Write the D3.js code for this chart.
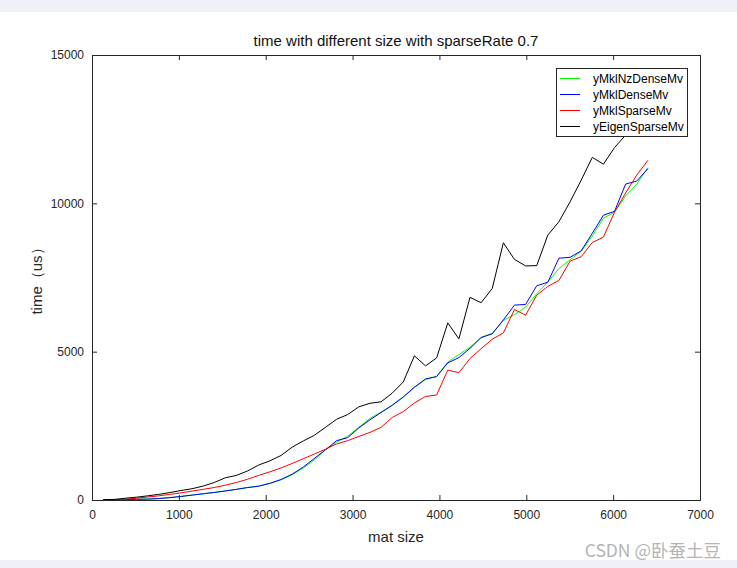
<!DOCTYPE html>
<html>
<head>
<meta charset="utf-8">
<script src="https://cdn.jsdelivr.net/npm/d3@7/dist/d3.min.js"></script>
<style>
  html, body { margin: 0; padding: 0; background: #ffffff; }
  svg { display: block; }
</style>
</head>
<body>
<svg id="chart" width="737" height="568"></svg>
<script>
// ---- data ----
const matSizes = [128, 256, 384, 512, 640, 768, 896, 1024, 1152, 1280,
  1408, 1536, 1664, 1792, 1920, 2048, 2176, 2304, 2432, 2560,
  2688, 2816, 2944, 3072, 3200, 3328, 3456, 3584, 3712, 3840,
  3968, 4096, 4224, 4352, 4480, 4608, 4736, 4864, 4992, 5120,
  5248, 5376, 5504, 5632, 5760, 5888, 6016, 6144, 6272, 6400];

const yMklNzDenseMv = [5, 10, 15, 25, 30, 50, 80, 120, 165, 210,
  255, 305, 360, 420, 470, 560, 680, 850, 1080, 1350,
  1700, 1950, 2150, 2450, 2750, 2960, 3200, 3480, 3800, 4060,
  4170, 4650, 4900, 5150, 5470, 5620, 6050, 6250, 6500, 6950,
  7350, 7800, 8100, 8380, 8900, 9500, 9700, 10250, 10650, 11200];

const yMklDenseMv = [5, 10, 15, 25, 30, 50, 80, 120, 165, 210,
  255, 305, 360, 420, 465, 560, 690, 870, 1110, 1400,
  1690, 2000, 2100, 2430, 2700, 2950, 3190, 3470, 3800, 4080,
  4160, 4620, 4800, 5110, 5480, 5600, 6070, 6570, 6590, 7220,
  7340, 8150, 8180, 8400, 8990, 9600, 9730, 10650, 10750, 11170];

const yMklSparseMv = [null, 0, 25, 60, 100, 140, 190, 240, 300, 360,
  420, 500, 590, 700, 830, 950, 1080, 1230, 1390, 1550,
  1710, 1890, 2000, 2140, 2280, 2450, 2780, 2980, 3270, 3490,
  3540, 4380, 4290, 4770, 5100, 5420, 5630, 6420, 6230, 6900,
  7200, 7400, 8050, 8200, 8680, 8860, 9700, 10350, 10950, 11450];

const yEigenSparseMv = [10, 20, 60, 95, 140, 190, 250, 320, 380, 470,
  590, 750, 830, 980, 1180, 1320, 1500, 1780, 1990, 2180,
  2450, 2720, 2880, 3140, 3260, 3310, 3600, 3980, 4860, 4520,
  4790, 5970, 5430, 6830, 6650, 7130, 8670, 8110, 7890, 7900,
  8930, 9380, 10050, 10780, 11550, 11320, 11880, 12300, 12700, 13100];

const seriesNames = ["yMklNzDenseMv", "yMklDenseMv", "yMklSparseMv", "yEigenSparseMv"];
const seriesColors = ["#00ff00", "#0000ff", "#ff0000", "#000000"];
const seriesValues = [yMklNzDenseMv, yMklDenseMv, yMklSparseMv, yEigenSparseMv];

const xTicks = [0, 1000, 2000, 3000, 4000, 5000, 6000, 7000];
const yTicks = [0, 5000, 10000, 15000];

const titleText = "time with different size with sparseRate 0.7";
const xLabelText = "mat size";
const yLabelText = "time（us）";
const watermark = "CSDN @卧蚕土豆";

// ---- layout ----
const svg = d3.select("#chart");
const L = 92, R = 700, T = 55, B = 500;
const axisColor = "#262626";
const font = "'Liberation Sans', Arial, Helvetica, sans-serif";

// screenshot bands
svg.append("rect").attr("x", 0).attr("y", 0).attr("width", 737).attr("height", 12).attr("fill", "#eef2f8");
svg.append("rect").attr("x", 0).attr("y", 560).attr("width", 737).attr("height", 8).attr("fill", "#eef2f8");

const x = d3.scaleLinear().domain([0, 7000]).range([L, R]);
const y = d3.scaleLinear().domain([0, 15000]).range([B, T]);

// plot background
svg.append("rect").attr("x", L).attr("y", T).attr("width", R - L).attr("height", B - T).attr("fill", "#ffffff");

// lines
const line = d3.line()
  .defined(d => d.v !== null)
  .x(d => x(d.s))
  .y(d => y(d.v));

seriesValues.forEach((vals, i) => {
  const data = matSizes.map((s, j) => ({ s: s, v: vals[j] }));
  svg.append("path")
    .datum(data)
    .attr("fill", "none")
    .attr("stroke", seriesColors[i])
    .attr("stroke-width", 1)
    .attr("stroke-linejoin", "round")
    .attr("d", line);
});

// axes
function styleAxis(g, showLabels) {
  g.select(".domain").remove();
  g.selectAll(".tick line").attr("stroke", axisColor).attr("stroke-width", 1);
  g.selectAll(".tick text")
    .attr("fill", axisColor)
    .style("font-family", font)
    .style("font-size", "12px");
  if (!showLabels) g.selectAll(".tick text").remove();
}

const gx = svg.append("g").attr("transform", `translate(0,${B})`)
  .call(d3.axisBottom(x).tickValues(xTicks).tickSizeInner(-5).tickSizeOuter(0).tickPadding(10).tickFormat(d3.format("d")));
styleAxis(gx, true);

const gxt = svg.append("g").attr("transform", `translate(0,${T})`)
  .call(d3.axisTop(x).tickValues(xTicks).tickSizeInner(-5).tickSizeOuter(0));
styleAxis(gxt, false);

const gy = svg.append("g").attr("transform", `translate(${L},0)`)
  .call(d3.axisLeft(y).tickValues(yTicks).tickSizeInner(-5).tickSizeOuter(0).tickPadding(8).tickFormat(d3.format("d")));
styleAxis(gy, true);

const gyr = svg.append("g").attr("transform", `translate(${R},0)`)
  .call(d3.axisRight(y).tickValues(yTicks).tickSizeInner(-5).tickSizeOuter(0));
styleAxis(gyr, false);

// box
svg.append("rect").attr("x", L).attr("y", T).attr("width", R - L).attr("height", B - T)
  .attr("fill", "none").attr("stroke", axisColor).attr("stroke-width", 1).attr("shape-rendering", "crispEdges");

// title & labels
svg.append("text").attr("x", (L + R) / 2).attr("y", 46).attr("text-anchor", "middle")
  .style("font-family", font).style("font-size", "15px").attr("fill", "#111").text(titleText);

svg.append("text").attr("x", (L + R) / 2).attr("y", 542).attr("text-anchor", "middle")
  .style("font-family", font).style("font-size", "15px").attr("fill", axisColor).text(xLabelText);

svg.append("text").attr("transform", `translate(42,${(T + B) / 2}) rotate(-90)`).attr("text-anchor", "middle")
  .style("font-family", font).style("font-size", "15px").attr("fill", axisColor).text(yLabelText);

// legend
const lg = svg.append("g");
const lx = 556, ly = 68, lw = 131, lh = 68;
lg.append("rect").attr("x", lx).attr("y", ly).attr("width", lw).attr("height", lh)
  .attr("fill", "#ffffff").attr("stroke", axisColor).attr("stroke-width", 1).attr("shape-rendering", "crispEdges");
seriesNames.forEach((name, i) => {
  const yy = 78.5 + i * 16;
  lg.append("line").attr("x1", lx + 4).attr("x2", lx + 24).attr("y1", yy).attr("y2", yy)
    .attr("stroke", seriesColors[i]).attr("stroke-width", 1);
  lg.append("text").attr("x", lx + 37).attr("y", yy).attr("dy", "0.35em")
    .style("font-family", font).style("font-size", "12px").attr("fill", "#000").text(name);
});

// watermark
svg.append("text").attr("x", 721).attr("y", 557).attr("text-anchor", "end")
  .style("font-family", "'Noto Sans CJK SC', 'Noto Sans', sans-serif").style("font-size", "17.5px")
  .attr("fill", "#b4b4b4").text(watermark);
</script>
</body>
</html>
